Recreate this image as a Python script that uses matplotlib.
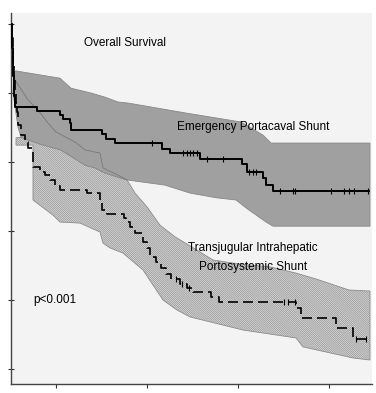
"""
Overall survival: emergency portacaval shunt vs TIPS (Kaplan-Meier with bands)
"""

import numpy as np
import matplotlib.pyplot as plt

# ---- curve data (months, survival fraction) ----
epcs_t = [0, 0.15, 0.3, 0.45, 0.6, 0.75, 0.9, 1.06, 6.86, 12.93, 13.72, 15.57, 15.83,
          24.01, 25.07, 27.44, 39.84, 41.95, 49.87, 60.95, 62.27, 66.49, 67.28, 69.13, 94.46]
epcs_s = [1.0, 0.97, 0.93, 0.89, 0.85, 0.82, 0.79, 0.759, 0.748, 0.736, 0.725, 0.713, 0.693,
          0.681, 0.667, 0.655, 0.638, 0.626, 0.609, 0.594, 0.571, 0.554, 0.533, 0.516, 0.516]
epcs_cens = [37.2, 45.4, 46.4, 47.2, 48.0, 49.1, 51.7, 55.9, 62.8, 63.9, 64.6,
             71.0, 74.4, 74.9, 84.4, 87.9, 89.2, 90.5, 94.2]

tips_t = [0, 0.2, 0.4, 0.6, 0.8, 1.0, 1.3, 1.6, 1.85, 2.64, 3.69, 4.49, 5.80, 7.65, 8.97,
          10.29, 11.61, 12.93, 20.05, 23.48, 24.01, 25.33, 29.82, 30.34, 31.40, 32.72,
          34.83, 35.88, 36.68, 38.26, 39.58, 40.90, 42.22, 44.59, 46.44, 48.02, 52.77,
          54.88, 75.20, 76.52, 85.75, 90.24, 94.46]
tips_s = [1.0, 0.96, 0.92, 0.88, 0.84, 0.80, 0.77, 0.745, 0.707, 0.678, 0.658, 0.641, 0.586,
          0.571, 0.562, 0.548, 0.530, 0.519, 0.510, 0.490, 0.461, 0.449, 0.438, 0.426, 0.412,
          0.394, 0.368, 0.351, 0.325, 0.310, 0.293, 0.275, 0.261, 0.246, 0.235, 0.223, 0.209,
          0.194, 0.177, 0.148, 0.119, 0.087, 0.087]
tips_cens = [43.5, 45.1, 47.0, 72.0, 73.1, 75.0, 91.0, 93.7]

# ---- confidence bands ----
epcs_hi_t = [0.79, 1.32, 12.93, 15.83, 21.11, 24.80, 28.23, 30.87, 46.17, 60.69, 66.49, 68.60, 94.72]
epcs_hi_s = [0.861, 0.864, 0.843, 0.814, 0.800, 0.788, 0.774, 0.771, 0.742, 0.716, 0.678, 0.655, 0.655]
epcs_lo_t = [0.53, 1.85, 2.64, 7.65, 13.19, 19.53, 22.16, 24.80, 30.61, 40.63, 47.23, 54.35,
             59.37, 62.01, 67.28, 69.13, 94.72]
epcs_lo_s = [0.800, 0.701, 0.672, 0.652, 0.635, 0.591, 0.583, 0.568, 0.548, 0.533, 0.510, 0.496,
             0.490, 0.467, 0.426, 0.414, 0.414]

inner_t = [1.06, 4.49, 7.12, 9.76, 11.87, 16.89, 19.53, 23.48, 24.27, 28.23, 30.61]
inner_s = [0.838, 0.780, 0.751, 0.713, 0.687, 0.658, 0.635, 0.626, 0.583, 0.562, 0.548]

tips_hi_t = [1.32, 2.64, 7.65, 13.19, 19.53, 22.16, 24.80, 30.61, 32.72, 35.88, 39.31, 43.27,
             47.23, 53.30, 60.42, 68.34, 75.20, 80.47, 89.18, 94.72]
tips_hi_s = [0.670, 0.672, 0.652, 0.635, 0.591, 0.583, 0.568, 0.548, 0.510, 0.470, 0.417, 0.383,
             0.357, 0.316, 0.304, 0.296, 0.278, 0.261, 0.229, 0.226]
tips_lo_t = [1.32, 5.80, 5.80, 11.08, 12.93, 18.21, 23.48, 24.27, 26.12, 29.55, 34.83, 40.11,
             43.80, 47.23, 61.21, 75.20, 77.04, 90.24, 94.72]
tips_lo_s = [0.649, 0.649, 0.490, 0.446, 0.426, 0.423, 0.397, 0.365, 0.351, 0.336, 0.287, 0.200,
             0.171, 0.151, 0.113, 0.090, 0.064, 0.032, 0.026]

x_ticks = [12, 36, 60, 84]
y_ticks = [0, 0.2, 0.4, 0.6, 0.8, 1.0]


def band(ax, t_hi, s_hi, t_lo, s_lo, **kw):
    xs = np.concatenate([t_hi, t_lo[::-1]])
    ys = np.concatenate([s_hi, s_lo[::-1]])
    ax.fill(xs, ys, **kw)


def step_value(t, s, at):
    idx = np.searchsorted(np.asarray(t), np.asarray(at), side="right") - 1
    return np.asarray(s)[idx]


plt.rcParams["font.family"] = ["Liberation Sans", "DejaVu Sans"]
plt.rcParams["hatch.linewidth"] = 0.45
plt.rcParams["hatch.color"] = "#9e9e9e"

fig = plt.figure(figsize=(3.76, 3.93), dpi=100, facecolor="white")
ax = fig.add_axes([11 / 376, 9 / 393, 361 / 376, 371 / 393])
ax.set_facecolor("#f3f3f3")

band(ax, tips_hi_t, tips_hi_s, tips_lo_t, tips_lo_s,
     facecolor="#dcdcdc", edgecolor="#8c8c8c", hatch="\\" * 16, linewidth=0.6, zorder=1)
band(ax, epcs_hi_t, epcs_hi_s, epcs_lo_t, epcs_lo_s,
     facecolor="#a0a0a0", edgecolor="#888888", linewidth=0.6, zorder=2)
ax.plot(inner_t, inner_s, color="#787878", lw=0.6, zorder=3)

ax.step(epcs_t, epcs_s, where="post", color="black", lw=1.4, zorder=4)
ax.step(tips_t, tips_s, where="post", color="black", lw=1.2, ls=(0, (6, 3)), zorder=4)
ax.plot(epcs_cens, step_value(epcs_t, epcs_s, epcs_cens), "|", color="black", ms=4.5, mew=0.8, zorder=5)
ax.plot(tips_cens, step_value(tips_t, tips_s, tips_cens), "|", color="black", ms=4.5, mew=0.8, zorder=5)

ax.text(30.1, 0.945, "Overall Survival", fontsize=8.5, ha="center", va="center")
ax.text(63.8, 0.701, "Emergency Portacaval Shunt", fontsize=8.5, ha="center", va="center", zorder=6)
ax.text(63.8, 0.351, "Transjugular Intrahepatic", fontsize=8.5, ha="center", va="center", zorder=6)
ax.text(63.8, 0.296, "Portosystemic Shunt", fontsize=8.5, ha="center", va="center", zorder=6)
ax.text(5.8, 0.200, "p<0.001", fontsize=8.5, ha="left", va="center")

ax.set_xlim(0, 95.25)
ax.set_ylim(-0.0435, 1.032)
ax.set_xticks(x_ticks)
ax.set_yticks(y_ticks)
ax.set_xticklabels([])
ax.set_yticklabels([])
ax.tick_params(axis="x", direction="out", length=3, width=0.8, color="#333333")
ax.tick_params(axis="y", direction="inout", length=5, width=0.8, color="#333333")
for side in ["top", "right"]:
    ax.spines[side].set_visible(False)
for side in ["left", "bottom"]:
    ax.spines[side].set_color("#444444")
    ax.spines[side].set_linewidth(1.0)

fig.savefig("out.png", dpi=100, facecolor="white")
